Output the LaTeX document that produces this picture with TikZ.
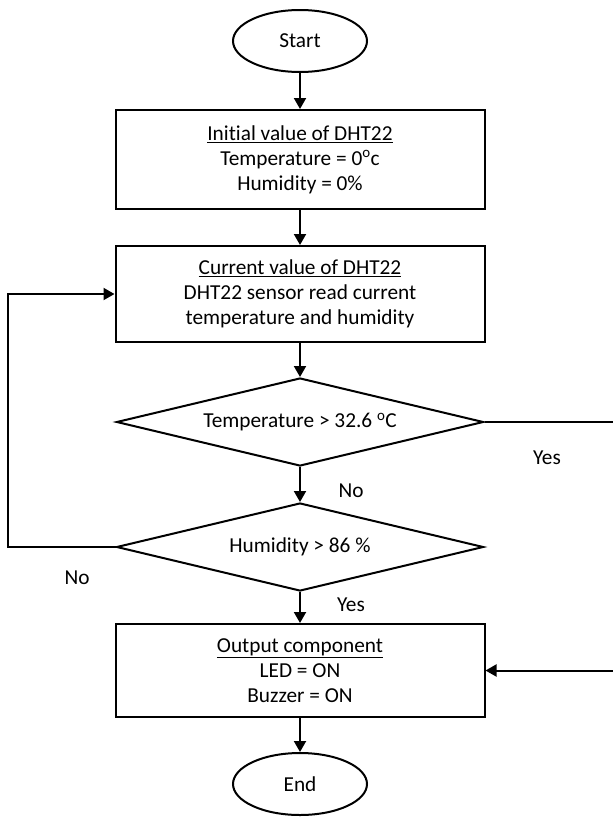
\documentclass[tikz,border=0pt]{standalone}
\usepackage{fontspec}
\setmainfont{Carlito}[Ligatures=NoCommon]
\usetikzlibrary{shapes.geometric,arrows.meta}

\begin{document}
\begin{tikzpicture}[x=1pt,y=-1pt,
    every node/.style={font=\fontsize{21.3}{25}\selectfont},
    terminal/.style={draw,line width=2pt,ellipse,minimum width=134pt,minimum height=62pt},
    process/.style={draw,line width=2pt,rectangle,align=center,minimum width=369pt,inner sep=0pt},
    decision/.style={draw,line width=2pt,diamond,aspect=4.2,inner sep=0pt,minimum width=367pt,minimum height=88pt},
    flow/.style={line width=2pt,-{Triangle[width=12pt,length=11pt]}}]
  \useasboundingbox (0,0) rectangle (613,817);
  \node[terminal] (start) at (300,41) {Start};
  \node[process,minimum height=99pt] (init) at (300,159.5)
    {\underline{Initial value of DHT22}\\Temperature = 0\textsuperscript{o}c\\Humidity = 0\%};
  \node[process,minimum height=96pt] (current) at (300,294)
    {\underline{Current value of DHT22}\\DHT22 sensor read current\\temperature and humidity};
  \node[decision] (tempchk) at (300,422) {Temperature > 32.6 \textsuperscript{o}C};
  \node[decision] (humchk) at (300,547) {Humidity > 86 \%};
  \node[process,minimum height=93pt] (output) at (300,670.5)
    {\underline{Output component}\\LED = ON\\Buzzer = ON};
  \node[terminal] (stop) at (300,784) {End};
  \coordinate (loopL) at (8,547);
  \coordinate (loopR) at (625,422);

  \draw[flow] (start) -- (init);
  \draw[flow] (init) -- (current);
  \draw[flow] (current) -- (tempchk);
  \draw[flow] (tempchk) -- (humchk);
  \draw[flow] (humchk) -- (output);
  \draw[flow] (output) -- (stop);
  \draw[flow] (humchk.west) -- (loopL) |- (current.west);
  \draw[flow] (tempchk.east) -- (loopR) |- (output.east);

  \node (yes1) at (547,458) {Yes};
  \node (no1) at (351,491) {No};
  \node (no2) at (77,578) {No};
  \node (yes2) at (351,605) {Yes};
\end{tikzpicture}
\end{document}
